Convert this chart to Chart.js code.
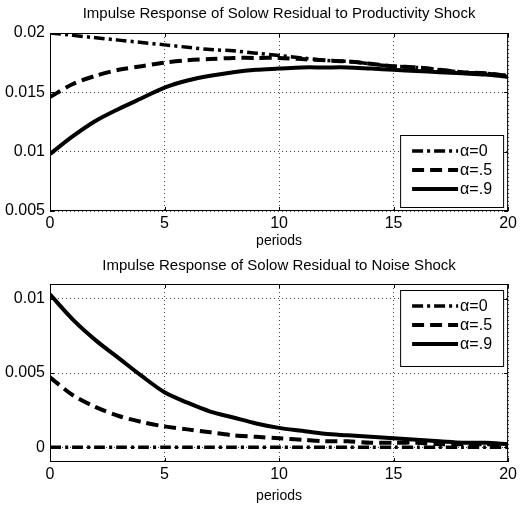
<!DOCTYPE html>
<html>
<head>
<meta charset="utf-8">
<script src="https://cdn.jsdelivr.net/npm/chart.js@4/dist/chart.umd.min.js"></script>
<style>
    body { margin: 0; background: #fff; }
    canvas { position: absolute; left: 0; }
</style>
</head>
<body>
<canvas id="productivite" width="520" height="253" style="top:0"></canvas>
<canvas id="bruit" width="520" height="253" style="top:253px"></canvas>
<script>
// périodes 0..20
const periodes = [0, 1, 2, 3, 4, 5, 6, 7, 8, 9, 10, 11, 12, 13, 14, 15, 16, 17, 18, 19, 20];
const etiquettes = ['\u03b1=0', '\u03b1=.5', '\u03b1=.9'];

// choc de productivité
const prodAlpha0 = [0.0200, 0.0198, 0.0196, 0.0194, 0.0192, 0.0190, 0.0188, 0.0186, 0.0185, 0.0183, 0.0181,
    0.0179, 0.0177, 0.0176, 0.0174, 0.0172, 0.0171, 0.0169, 0.0167, 0.0166, 0.0164];
const prodAlpha5 = [0.0146, 0.0157, 0.0164, 0.0169, 0.0172, 0.0175, 0.0177, 0.0178, 0.0179, 0.0179, 0.0179,
    0.0178, 0.0177, 0.0176, 0.0174, 0.0172, 0.0171, 0.0169, 0.0167, 0.0166, 0.0164];
const prodAlpha9 = [0.0098, 0.0113, 0.0126, 0.0136, 0.0145, 0.0154, 0.0160, 0.0164, 0.0167, 0.0169, 0.0170,
    0.0171, 0.0171, 0.0171, 0.0170, 0.0169, 0.0168, 0.0167, 0.0166, 0.0165, 0.0163];

// choc de bruit
const bruitAlpha0 = [0, 0, 0, 0, 0, 0, 0, 0, 0, 0, 0, 0, 0, 0, 0, 0, 0, 0, 0, 0, 0];
const bruitAlpha5 = [0.0047, 0.0035, 0.0027, 0.0021, 0.0017, 0.0014, 0.0012, 0.0010, 0.0008, 0.0007, 0.0006,
    0.0005, 0.0004, 0.0004, 0.0003, 0.0003, 0.0003, 0.0002, 0.0002, 0.0002, 0.0002];
const bruitAlpha9 = [0.0103, 0.0086, 0.0072, 0.0060, 0.0048, 0.0037, 0.0030, 0.0024, 0.0020, 0.0016, 0.0013,
    0.0011, 0.0009, 0.0008, 0.0007, 0.0006, 0.0005, 0.0004, 0.0003, 0.0003, 0.0002];

const xTicks = [0, 5, 10, 15, 20];
const yTicksProd = [0.005, 0.01, 0.015, 0.02];
const yTicksBruit = [0, 0.005, 0.01];

const police = "'Liberation Sans', Arial, Helvetica, sans-serif";
const styles = [
    { borderWidth: 3.5, borderDash: [11, 4, 3, 4] },
    { borderWidth: 4, borderDash: [12, 6] },
    { borderWidth: 4, borderDash: [] },
];

function series(valeurs) {
    return valeurs.map((v, i) => ({
        label: etiquettes[i],
        data: periodes.map((p, j) => ({ x: p, y: v[j] })),
        borderColor: '#000',
        borderWidth: styles[i].borderWidth,
        borderDash: styles[i].borderDash,
        pointRadius: 0,
        fill: false,
        tension: 0.3,
    }));
}

// cadre fermé + légende en boîte façon matlab
const cadre = {
    id: 'cadre',
    afterDatasetsDraw(chart, args, opts) {
        const { ctx, chartArea: a } = chart;
        ctx.save();
        ctx.strokeStyle = '#000';
        ctx.lineWidth = 1;
        ctx.setLineDash([]);
        ctx.strokeRect(a.left + 0.5, a.top + 0.5, a.right - a.left - 1, a.bottom - a.top - 1);
        // petites graduations internes
        for (const v of xTicks) {
            const x = Math.round(chart.scales.x.getPixelForValue(v)) + 0.5;
            ctx.beginPath();
            ctx.moveTo(x, a.bottom); ctx.lineTo(x, a.bottom - 4);
            ctx.moveTo(x, a.top); ctx.lineTo(x, a.top + 4);
            ctx.stroke();
        }
        for (const v of opts.yTicks) {
            const y = Math.round(chart.scales.y.getPixelForValue(v)) + 0.5;
            ctx.beginPath();
            ctx.moveTo(a.left, y); ctx.lineTo(a.left + 4, y);
            ctx.moveTo(a.right, y); ctx.lineTo(a.right - 4, y);
            ctx.stroke();
        }

        // légende
        const w = 103, h = opts.legendeH;
        const lx = a.right - w - 5;
        const ly = opts.legendeHaut ? a.top + 6 : a.bottom - h - 4;
        ctx.fillStyle = '#fff';
        ctx.fillRect(lx, ly, w, h);
        ctx.strokeRect(lx + 0.5, ly + 0.5, w, h);
        ctx.font = '16px ' + police;
        ctx.textBaseline = 'middle';
        chart.data.datasets.forEach((ds, i) => {
            const y = ly + opts.legendeRangs[i];
            ctx.beginPath();
            ctx.lineWidth = ds.borderWidth;
            ctx.setLineDash(ds.borderDash);
            ctx.moveTo(lx + 12, y);
            ctx.lineTo(lx + 58, y);
            ctx.stroke();
            ctx.setLineDash([]);
            ctx.fillStyle = '#000';
            ctx.fillText(ds.label, lx + 60, y + 1);
        });
        ctx.restore();
    }
};

function creerGraphique(id, titre, valeurs, yMin, yMax, yTicks, hautX, padTitre, padPeriodes, legende) {
    return new Chart(document.getElementById(id), {
        type: 'line',
        data: { datasets: series(valeurs) },
        plugins: [cadre],
        options: {
            responsive: false,
            animation: false,
            layout: { padding: { left: 0, right: 8, top: 0, bottom: 0 } },
            scales: {
                x: {
                    type: 'linear',
                    min: 0,
                    max: 20,
                    afterBuildTicks: s => { s.ticks = xTicks.map(v => ({ value: v })); },
                    afterFit: s => { s.height = hautX; },
                    grid: { color: '#444', lineWidth: 1, drawTicks: false },
                    border: { display: false, dash: [1, 3] },
                    ticks: { color: '#000', padding: 3, font: { family: police, size: 16 } },
                    title: {
                        display: true,
                        text: 'periods',
                        color: '#000',
                        font: { family: police, size: 14 },
                        padding: { top: 0, bottom: padPeriodes },
                    },
                },
                y: {
                    min: yMin,
                    max: yMax,
                    afterBuildTicks: s => { s.ticks = yTicks.map(v => ({ value: v })); },
                    afterFit: s => { s.width = 50; },
                    grid: { color: '#444', lineWidth: 1, drawTicks: false },
                    border: { display: false, dash: [1, 3] },
                    ticks: {
                        color: '#000',
                        padding: 5,
                        font: { family: police, size: 16 },
                        callback: v => String(Number(v.toFixed(4))),
                    },
                },
            },
            plugins: {
                legend: { display: false },
                tooltip: { enabled: false },
                title: {
                    display: true,
                    fullSize: false,
                    text: titre,
                    color: '#000',
                    font: { family: police, size: 15, weight: 'normal' },
                    padding: padTitre,
                },
                cadre: Object.assign({ yTicks: yTicks }, legende),
            },
        },
    });
}

creerGraphique('productivite', 'Impulse Response of Solow Residual to Productivity Shock',
    [prodAlpha0, prodAlpha5, prodAlpha9], 0.005, 0.02, yTicksProd, 42,
    { top: 5, bottom: 10 }, 3.6,
    { legendeHaut: false, legendeH: 72, legendeRangs: [16, 35, 54] });

creerGraphique('bruit', 'Impulse Response of Solow Residual to Noise Shock',
    [bruitAlpha0, bruitAlpha5, bruitAlpha9], -0.001, 0.011, yTicksBruit, 44,
    { top: 4, bottom: 9 }, 1.6,
    { legendeHaut: true, legendeH: 76, legendeRangs: [16, 35, 54] });
</script>
</body>
</html>
